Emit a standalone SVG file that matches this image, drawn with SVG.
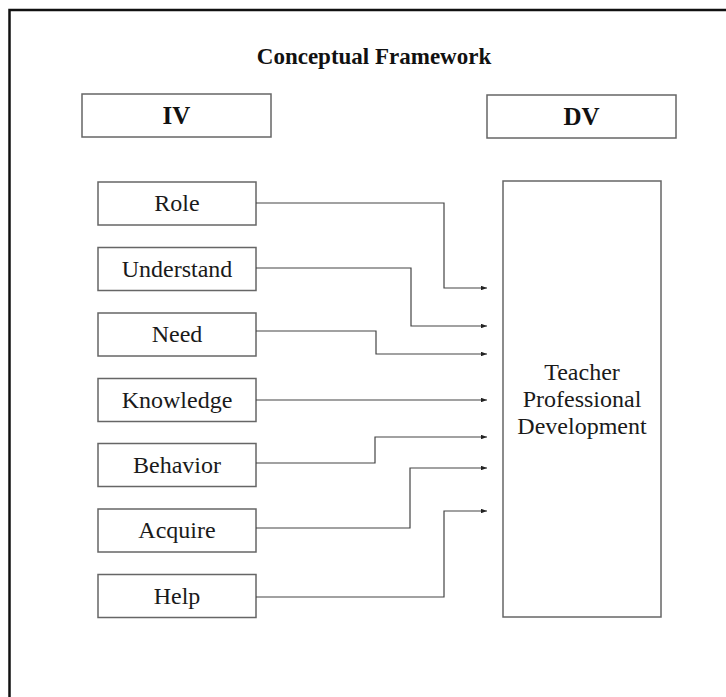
<svg xmlns="http://www.w3.org/2000/svg" width="726" height="697" viewBox="0 0 726 697">
<defs>
<style>
.bx{fill:#fff;stroke:#666;stroke-width:1.5}
.t{font-family:"Liberation Serif","Times New Roman",serif;font-size:24px;fill:#1a1a1a;text-anchor:middle}
.b{font-family:"Liberation Serif","Times New Roman",serif;font-weight:bold;fill:#111;text-anchor:middle}
.c{fill:none;stroke:#444;stroke-width:1.2}
</style>
<marker id="ah" viewBox="0 0 8 6" refX="8" refY="3" markerWidth="6" markerHeight="4.5" markerUnits="userSpaceOnUse" orient="auto">
<path d="M0,0 L8,3 L0,6 z" fill="#222"/>
</marker>
</defs>
<rect width="726" height="697" fill="#fff"/>
<path d="M9.5,697 V10 H726" fill="none" stroke="#111" stroke-width="2.5"/>
<text class="b" x="374" y="64" font-size="23">Conceptual Framework</text>
<g id="iv"><rect class="bx" x="82" y="94" width="189" height="43"/><text class="b" x="176.5" y="124" font-size="25">IV</text></g>
<g id="dv"><rect class="bx" x="487" y="95" width="189" height="43"/><text class="b" x="581.5" y="125" font-size="25">DV</text></g>
<g id="role"><rect class="bx" x="98" y="182" width="158" height="43"/><text class="t" x="177" y="211">Role</text></g>
<g id="understand"><rect class="bx" x="98" y="247.5" width="158" height="43"/><text class="t" x="177" y="276.5">Understand</text></g>
<g id="need"><rect class="bx" x="98" y="313" width="158" height="43"/><text class="t" x="177" y="342">Need</text></g>
<g id="knowledge"><rect class="bx" x="98" y="378.5" width="158" height="43"/><text class="t" x="177" y="407.5">Knowledge</text></g>
<g id="behavior"><rect class="bx" x="98" y="443.5" width="158" height="43"/><text class="t" x="177" y="472.5">Behavior</text></g>
<g id="acquire"><rect class="bx" x="98" y="509" width="158" height="43"/><text class="t" x="177" y="538">Acquire</text></g>
<g id="help"><rect class="bx" x="98" y="574.5" width="158" height="43"/><text class="t" x="177" y="603.5">Help</text></g>
<g id="tpd"><rect class="bx" x="503" y="181" width="158" height="436"/>
<text class="t" x="582" y="380">Teacher</text><text class="t" x="582" y="407">Professional</text><text class="t" x="582" y="434">Development</text></g>
<g id="connectors">
<path class="c" marker-end="url(#ah)" d="M256,203 H444 V288 H487"/>
<path class="c" marker-end="url(#ah)" d="M256,268 H411 V326 H487"/>
<path class="c" marker-end="url(#ah)" d="M256,331 H376 V354 H487"/>
<path class="c" marker-end="url(#ah)" d="M256,400 H487"/>
<path class="c" marker-end="url(#ah)" d="M256,463 H375 V437 H487"/>
<path class="c" marker-end="url(#ah)" d="M256,528 H410 V468 H487"/>
<path class="c" marker-end="url(#ah)" d="M256,597 H444 V511 H487"/>
</g>
</svg>
